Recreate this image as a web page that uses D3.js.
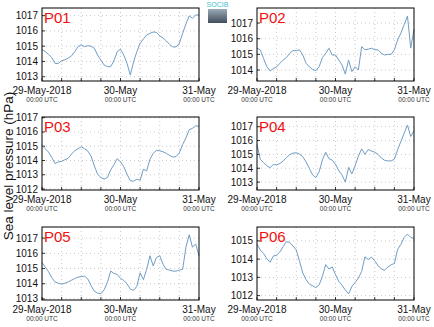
<!DOCTYPE html>
<html>
<head>
<meta charset="utf-8">
<script src="https://cdn.jsdelivr.net/npm/d3@7"></script>
<style>
  body { margin: 0; background: #fff; }
  svg { display: block; font-family: "Liberation Sans", Arial, sans-serif; }
</style>
</head>
<body>
<div id="chart"></div>
<script>
// hourly samples from 29-May-2018 00:00 UTC to 31-May-2018 00:00 UTC
const stations = ['P01', 'P02', 'P03', 'P04', 'P05', 'P06'];

const p01 = [1014.79, 1014.64, 1014.46, 1014.25, 1013.87, 1013.87, 1014.05, 1014.11, 1014.22, 1014.36,
  1014.64, 1014.97, 1015.08, 1014.97, 1015.03, 1015.0, 1014.86, 1014.42, 1014.09, 1013.77,
  1013.66, 1013.66, 1014.05, 1014.64, 1014.79, 1014.42, 1013.87, 1013.11, 1013.98, 1014.64,
  1015.19, 1015.47, 1015.73, 1015.84, 1015.93, 1015.9, 1015.67, 1015.54, 1015.34, 1015.12,
  1014.95, 1014.95, 1015.19, 1015.84, 1016.45, 1016.98, 1016.83, 1017.04, 1017.04];
const p02 = [1015.39, 1015.29, 1014.75, 1014.21, 1013.94, 1014.1, 1014.2, 1014.43, 1014.64, 1014.8,
  1015.07, 1015.24, 1015.24, 1015.29, 1014.96, 1014.43, 1014.21, 1014.04, 1013.96, 1014.21,
  1014.8, 1015.07, 1015.39, 1014.96, 1014.96, 1014.64, 1014.32, 1013.74, 1014.64, 1013.9,
  1014.21, 1014.0, 1015.5, 1015.29, 1015.33, 1015.39, 1015.29, 1015.29, 1015.07, 1014.96,
  1015.0, 1015.0, 1015.29, 1015.93, 1016.36, 1016.9, 1017.45, 1015.4, 1016.6];
const p03 = [1015.05, 1014.82, 1014.59, 1014.2, 1013.78, 1013.9, 1013.94, 1014.06, 1014.15, 1014.45,
  1014.68, 1014.82, 1014.96, 1014.82, 1014.66, 1014.31, 1013.62, 1013.04, 1012.81, 1012.69,
  1012.81, 1013.34, 1013.71, 1014.13, 1013.9, 1013.57, 1013.04, 1012.58, 1012.55, 1012.69,
  1012.62, 1013.39, 1013.27, 1014.08, 1014.5, 1014.71, 1014.68, 1014.61, 1014.5, 1014.36,
  1014.24, 1014.27, 1014.54, 1015.12, 1015.58, 1016.16, 1016.25, 1016.44, 1016.4];
const p04 = [1015.71, 1014.65, 1014.41, 1014.18, 1014.04, 1014.27, 1014.25, 1014.34, 1014.53, 1014.76,
  1014.98, 1015.09, 1015.12, 1015.02, 1014.84, 1014.46, 1013.99, 1013.52, 1013.33, 1013.75,
  1014.6, 1015.16, 1014.69, 1014.58, 1014.29, 1013.82, 1013.52, 1013.0, 1014.06, 1013.59,
  1014.18, 1014.88, 1015.4, 1015.0, 1015.35, 1015.24, 1015.16, 1015.0, 1014.74, 1014.58,
  1014.53, 1014.53, 1014.65, 1015.35, 1015.94, 1016.53, 1017.12, 1016.29, 1016.72];
const p05 = [1015.39, 1015.1, 1014.79, 1014.39, 1014.12, 1014.03, 1013.98, 1014.03, 1014.12, 1014.23,
  1014.34, 1014.43, 1014.47, 1014.5, 1014.32, 1013.87, 1013.51, 1013.38, 1013.34, 1013.6,
  1014.09, 1014.83, 1014.68, 1014.61, 1014.36, 1014.21, 1014.0, 1013.65, 1013.56, 1013.83,
  1014.72, 1014.27, 1014.94, 1015.84, 1015.17, 1015.73, 1015.84, 1015.28, 1014.94, 1014.9,
  1014.83, 1014.83, 1014.9, 1014.94, 1016.4, 1017.22, 1016.4, 1016.62, 1015.84];
const p06 = [1014.81, 1014.5, 1014.31, 1014.02, 1013.83, 1014.17, 1014.22, 1014.39, 1014.69, 1014.96,
  1014.91, 1014.72, 1014.5, 1013.89, 1013.24, 1012.87, 1012.63, 1012.54, 1012.44, 1012.59,
  1013.06, 1013.7, 1013.46, 1013.57, 1013.15, 1012.78, 1012.57, 1012.31, 1012.09, 1012.5,
  1012.72, 1012.96, 1013.33, 1014.13, 1013.98, 1014.11, 1013.91, 1013.65, 1013.46, 1013.39,
  1013.57, 1013.69, 1013.76, 1014.54, 1014.81, 1015.19, 1015.37, 1015.19, 1015.13];
const series = [p01, p02, p03, p04, p05, p06];

// y-axis range of each panel, ticks every 1 hPa
const yRanges = [[1012.72, 1017.5], [1013.3, 1017.96], [1011.93, 1017.05],
  [1012.43, 1017.7], [1012.93, 1017.73], [1011.76, 1015.76]];

const xTickDays = ['29-May-2018', '30-May', '31-May'];
const xTickSub = '00:00 UTC';

const W = 434, H = 327;
const svg = d3.select('#chart').append('svg').attr('width', W).attr('height', H);

const t0 = new Date(Date.UTC(2018, 4, 29));
const t1 = new Date(Date.UTC(2018, 4, 31));
const colLeft = [42, 257];
const rowTop = [8, 117, 227];
const pw = 157, ph = 73;

series.forEach((vals, i) => {
  const col = i % 2, row = Math.floor(i / 2);
  const g = svg.append('g').attr('transform', `translate(${colLeft[col]},${rowTop[row]})`);

  const x = d3.scaleUtc().domain([t0, t1]).range([0, pw]);
  const y = d3.scaleLinear().domain(yRanges[i]).range([ph, 0]);
  const data = vals.map((v, k) => ({ t: d3.utcHour.offset(t0, k), v }));

  const sixHours = d3.utcHour.every(6).range(t0, d3.utcHour.offset(t1, 1));
  const yTicks = d3.range(Math.ceil(yRanges[i][0]), Math.floor(yRanges[i][1]) + 1);

  // dotted grid
  g.selectAll('.vg').data(sixHours.slice(1, -1)).enter().append('line')
    .attr('x1', d => x(d)).attr('x2', d => x(d)).attr('y1', 0).attr('y2', ph)
    .attr('stroke', '#bbb').attr('stroke-width', 0.8).attr('stroke-dasharray', '1,3');
  g.selectAll('.hg').data(yTicks).enter().append('line')
    .attr('x1', 0).attr('x2', pw).attr('y1', d => y(d)).attr('y2', d => y(d))
    .attr('stroke', '#bbb').attr('stroke-width', 0.8).attr('stroke-dasharray', '1,3');

  // small inner ticks
  g.selectAll('.xt').data(sixHours).enter().append('line')
    .attr('x1', d => x(d)).attr('x2', d => x(d)).attr('y1', ph).attr('y2', ph - 3)
    .attr('stroke', '#000').attr('stroke-width', 0.8);
  g.selectAll('.yt').data(yTicks).enter().append('line')
    .attr('x1', 0).attr('x2', 3).attr('y1', d => y(d)).attr('y2', d => y(d))
    .attr('stroke', '#000').attr('stroke-width', 0.8);

  const line = d3.line().x(d => x(d.t)).y(d => y(d.v));
  g.append('path').datum(data).attr('d', line)
    .attr('fill', 'none').attr('stroke', '#6f9dc6').attr('stroke-width', 1)
    .attr('stroke-linejoin', 'round');

  g.append('rect').attr('x', 0).attr('y', 0).attr('width', pw).attr('height', ph)
    .attr('fill', 'none').attr('stroke', '#000').attr('stroke-width', 1);

  // y tick labels
  g.selectAll('.yl').data(yTicks).enter().append('text')
    .attr('x', -4).attr('y', d => y(d) + 3.5)
    .attr('text-anchor', 'end').attr('font-size', 10).attr('fill', '#111')
    .text(d => d);

  // x tick labels
  const days = [t0, d3.utcDay.offset(t0, 1), t1];
  days.forEach((d, k) => {
    g.append('text').attr('x', x(d)).attr('y', ph + 13)
      .attr('text-anchor', 'middle').attr('font-size', 10).attr('fill', '#111')
      .text(xTickDays[k]);
    g.append('text').attr('x', x(d)).attr('y', ph + 21)
      .attr('text-anchor', 'middle').attr('font-size', 6.5).attr('fill', '#333')
      .text(xTickSub);
  });

  g.append('text').attr('x', 2).attr('y', 15)
    .attr('font-size', 15).attr('fill', '#f01010')
    .text(stations[i]);
});

svg.append('text')
  .attr('transform', 'translate(13,166) rotate(-90)')
  .attr('text-anchor', 'middle').attr('font-size', 13.5).attr('fill', '#111')
  .text('Sea level pressure (hPa)');

// small logo top right of first panel
const grad = svg.append('defs').append('linearGradient').attr('id', 'lg')
  .attr('x1', 0).attr('x2', 0).attr('y1', 0).attr('y2', 1);
grad.append('stop').attr('offset', '0%').attr('stop-color', '#9aaab6');
grad.append('stop').attr('offset', '100%').attr('stop-color', '#3f4e5a');
svg.append('rect').attr('x', 208).attr('y', 9).attr('width', 19).attr('height', 14)
  .attr('fill', 'url(#lg)');
svg.append('text').attr('x', 217.5).attr('y', 7).attr('text-anchor', 'middle')
  .attr('font-size', 7).attr('fill', '#3ec3d3').text('SOCIB');
</script>
</body>
</html>
